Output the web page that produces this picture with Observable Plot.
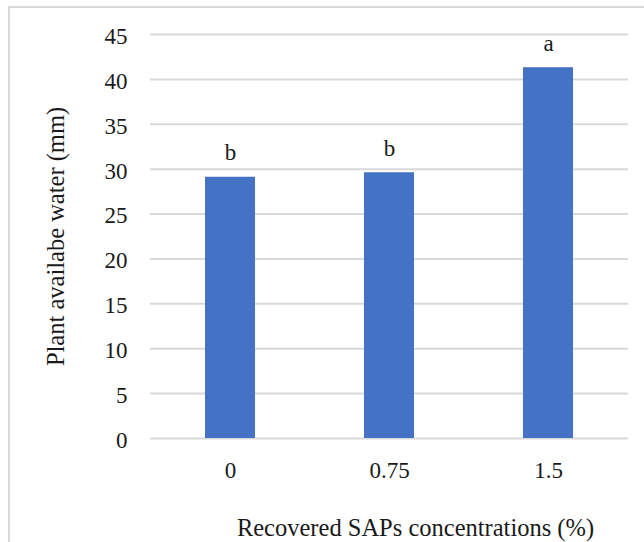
<!DOCTYPE html>
<html>
<head>
<meta charset="utf-8">
<script src="https://cdn.jsdelivr.net/npm/d3@7"></script>
<script src="https://cdn.jsdelivr.net/npm/@observablehq/plot@0.6"></script>
<style>
  html, body { margin: 0; padding: 0; background: #fff; }
  #wrap { position: relative; width: 644px; height: 542px; overflow: hidden; }
  #frame { position: absolute; left: 8px; top: 6px; width: 700px; height: 600px;
           border-top: 2px solid #d9d9d9; border-left: 2px solid #d9d9d9; box-sizing: border-box; }
  #chart { position: absolute; left: 0; top: 0; }
</style>
</head>
<body>
<div id="wrap"><div id="frame"></div><div id="chart"></div></div>
<script>
const concentrations = ["0", "0.75", "1.5"];
const water = [29.1, 29.6, 41.3];
const letters = ["b", "b", "a"];
const yTicks = [0, 5, 10, 15, 20, 25, 30, 35, 40, 45];
const xTitle = "Recovered SAPs concentrations (%)";
const yTitle = "Plant availabe water (mm)";

const data = concentrations.map((c, i) => ({c, v: water[i], l: letters[i]}));
const FS = 23;     // tick labels and letters
const TS = 24.5;   // axis titles
const INK = "#1a1a1a";

const chart = Plot.plot({
  width: 644,
  height: 542,
  marginLeft: 150,
  marginRight: 16,
  marginTop: 34,
  marginBottom: 104,
  style: {fontFamily: "'Liberation Serif', 'Times New Roman', serif", fontSize: FS + "px", color: INK, background: "transparent"},
  x: {domain: concentrations, paddingInner: 0.686, paddingOuter: 0.343, label: null},
  y: {domain: [0, 45], ticks: yTicks, label: null},
  marks: [
    Plot.gridY(yTicks, {stroke: "#d9d9d9", strokeOpacity: 1, strokeWidth: 2}),
    Plot.barY(data, {x: "c", y: "v", fill: "#4472C4"}),
    Plot.text(data, {x: "c", y: "v", text: "l", lineAnchor: "bottom", dy: -17, fontSize: FS, fill: INK}),
    Plot.axisY(yTicks, {tickSize: 0, tickPadding: 23, dy: 2, fontSize: FS, fill: INK, label: null}),
    Plot.axisX({tickSize: 0, tickPadding: 23, fontSize: FS, fill: INK, label: null}),
    Plot.text([xTitle], {frameAnchor: "bottom", textAnchor: "middle", lineAnchor: "bottom", dy: 97, dx: 26, fontSize: TS, fill: INK}),
    Plot.text([yTitle], {frameAnchor: "left", textAnchor: "middle", lineAnchor: "middle", dx: -94, dy: 0, rotate: -90, fontSize: TS, fill: INK})
  ]
});
document.getElementById("chart").appendChild(chart);
</script>
</body>
</html>
